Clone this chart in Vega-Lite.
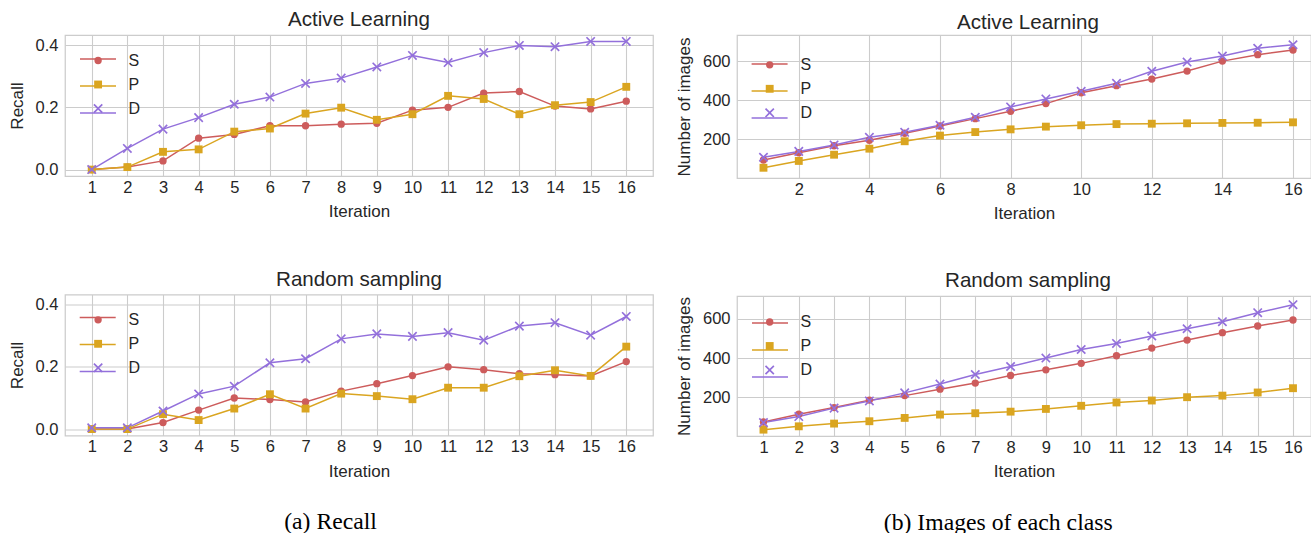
{
  "$schema": "https://vega.github.io/schema/vega-lite/v6.json",
  "background": "white",
  "padding": {"left": 7, "top": 9, "right": 0, "bottom": 0},
  "autosize": {"type": "pad"},
  "datasets": {
    "recall_al": [
      {"Iteration": 1, "series": "S", "value": 0}, {"Iteration": 2, "series": "S", "value": 0.008}, {"Iteration": 3, "series": "S", "value": 0.028}, {"Iteration": 4, "series": "S", "value": 0.101},
      {"Iteration": 5, "series": "S", "value": 0.113}, {"Iteration": 6, "series": "S", "value": 0.141}, {"Iteration": 7, "series": "S", "value": 0.141}, {"Iteration": 8, "series": "S", "value": 0.146},
      {"Iteration": 9, "series": "S", "value": 0.149}, {"Iteration": 10, "series": "S", "value": 0.191}, {"Iteration": 11, "series": "S", "value": 0.2}, {"Iteration": 12, "series": "S", "value": 0.246},
      {"Iteration": 13, "series": "S", "value": 0.251}, {"Iteration": 14, "series": "S", "value": 0.204}, {"Iteration": 15, "series": "S", "value": 0.195}, {"Iteration": 16, "series": "S", "value": 0.22},
      {"Iteration": 1, "series": "P", "value": 0}, {"Iteration": 2, "series": "P", "value": 0.008}, {"Iteration": 3, "series": "P", "value": 0.057}, {"Iteration": 4, "series": "P", "value": 0.065},
      {"Iteration": 5, "series": "P", "value": 0.122}, {"Iteration": 6, "series": "P", "value": 0.132}, {"Iteration": 7, "series": "P", "value": 0.18}, {"Iteration": 8, "series": "P", "value": 0.199},
      {"Iteration": 9, "series": "P", "value": 0.16}, {"Iteration": 10, "series": "P", "value": 0.178}, {"Iteration": 11, "series": "P", "value": 0.237}, {"Iteration": 12, "series": "P", "value": 0.227},
      {"Iteration": 13, "series": "P", "value": 0.178}, {"Iteration": 14, "series": "P", "value": 0.207}, {"Iteration": 15, "series": "P", "value": 0.217}, {"Iteration": 16, "series": "P", "value": 0.266},
      {"Iteration": 1, "series": "D", "value": 0}, {"Iteration": 2, "series": "D", "value": 0.068}, {"Iteration": 3, "series": "D", "value": 0.13}, {"Iteration": 4, "series": "D", "value": 0.167},
      {"Iteration": 5, "series": "D", "value": 0.21}, {"Iteration": 6, "series": "D", "value": 0.233}, {"Iteration": 7, "series": "D", "value": 0.277}, {"Iteration": 8, "series": "D", "value": 0.294},
      {"Iteration": 9, "series": "D", "value": 0.33}, {"Iteration": 10, "series": "D", "value": 0.367}, {"Iteration": 11, "series": "D", "value": 0.344}, {"Iteration": 12, "series": "D", "value": 0.376},
      {"Iteration": 13, "series": "D", "value": 0.399}, {"Iteration": 14, "series": "D", "value": 0.395}, {"Iteration": 15, "series": "D", "value": 0.412}, {"Iteration": 16, "series": "D", "value": 0.412}
    ],
    "recall_rs": [
      {"Iteration": 1, "series": "S", "value": 0}, {"Iteration": 2, "series": "S", "value": 0}, {"Iteration": 3, "series": "S", "value": 0.021}, {"Iteration": 4, "series": "S", "value": 0.061},
      {"Iteration": 5, "series": "S", "value": 0.1}, {"Iteration": 6, "series": "S", "value": 0.095}, {"Iteration": 7, "series": "S", "value": 0.087}, {"Iteration": 8, "series": "S", "value": 0.122},
      {"Iteration": 9, "series": "S", "value": 0.146}, {"Iteration": 10, "series": "S", "value": 0.172}, {"Iteration": 11, "series": "S", "value": 0.2}, {"Iteration": 12, "series": "S", "value": 0.191},
      {"Iteration": 13, "series": "S", "value": 0.178}, {"Iteration": 14, "series": "S", "value": 0.175}, {"Iteration": 15, "series": "S", "value": 0.171}, {"Iteration": 16, "series": "S", "value": 0.217},
      {"Iteration": 1, "series": "P", "value": 0}, {"Iteration": 2, "series": "P", "value": 0}, {"Iteration": 3, "series": "P", "value": 0.048}, {"Iteration": 4, "series": "P", "value": 0.029},
      {"Iteration": 5, "series": "P", "value": 0.066}, {"Iteration": 6, "series": "P", "value": 0.112}, {"Iteration": 7, "series": "P", "value": 0.066}, {"Iteration": 8, "series": "P", "value": 0.114},
      {"Iteration": 9, "series": "P", "value": 0.106}, {"Iteration": 10, "series": "P", "value": 0.096}, {"Iteration": 11, "series": "P", "value": 0.133}, {"Iteration": 12, "series": "P", "value": 0.133},
      {"Iteration": 13, "series": "P", "value": 0.17}, {"Iteration": 14, "series": "P", "value": 0.189}, {"Iteration": 15, "series": "P", "value": 0.171}, {"Iteration": 16, "series": "P", "value": 0.265},
      {"Iteration": 1, "series": "D", "value": 0.004}, {"Iteration": 2, "series": "D", "value": 0.004}, {"Iteration": 3, "series": "D", "value": 0.058}, {"Iteration": 4, "series": "D", "value": 0.113},
      {"Iteration": 5, "series": "D", "value": 0.138}, {"Iteration": 6, "series": "D", "value": 0.213}, {"Iteration": 7, "series": "D", "value": 0.226}, {"Iteration": 8, "series": "D", "value": 0.29},
      {"Iteration": 9, "series": "D", "value": 0.306}, {"Iteration": 10, "series": "D", "value": 0.298}, {"Iteration": 11, "series": "D", "value": 0.31}, {"Iteration": 12, "series": "D", "value": 0.286},
      {"Iteration": 13, "series": "D", "value": 0.331}, {"Iteration": 14, "series": "D", "value": 0.342}, {"Iteration": 15, "series": "D", "value": 0.302}, {"Iteration": 16, "series": "D", "value": 0.362}
    ],
    "img_al": [
      {"Iteration": 1, "series": "S", "value": 94}, {"Iteration": 2, "series": "S", "value": 131}, {"Iteration": 3, "series": "S", "value": 167}, {"Iteration": 4, "series": "S", "value": 195},
      {"Iteration": 5, "series": "S", "value": 231}, {"Iteration": 6, "series": "S", "value": 268}, {"Iteration": 7, "series": "S", "value": 306}, {"Iteration": 8, "series": "S", "value": 344},
      {"Iteration": 9, "series": "S", "value": 383}, {"Iteration": 10, "series": "S", "value": 439}, {"Iteration": 11, "series": "S", "value": 475}, {"Iteration": 12, "series": "S", "value": 509},
      {"Iteration": 13, "series": "S", "value": 550}, {"Iteration": 14, "series": "S", "value": 601}, {"Iteration": 15, "series": "S", "value": 634}, {"Iteration": 16, "series": "S", "value": 658},
      {"Iteration": 1, "series": "P", "value": 54}, {"Iteration": 2, "series": "P", "value": 89}, {"Iteration": 3, "series": "P", "value": 121}, {"Iteration": 4, "series": "P", "value": 152},
      {"Iteration": 5, "series": "P", "value": 190}, {"Iteration": 6, "series": "P", "value": 219}, {"Iteration": 7, "series": "P", "value": 237}, {"Iteration": 8, "series": "P", "value": 251},
      {"Iteration": 9, "series": "P", "value": 265}, {"Iteration": 10, "series": "P", "value": 272}, {"Iteration": 11, "series": "P", "value": 278}, {"Iteration": 12, "series": "P", "value": 280},
      {"Iteration": 13, "series": "P", "value": 282}, {"Iteration": 14, "series": "P", "value": 284}, {"Iteration": 15, "series": "P", "value": 285}, {"Iteration": 16, "series": "P", "value": 287},
      {"Iteration": 1, "series": "D", "value": 108}, {"Iteration": 2, "series": "D", "value": 138}, {"Iteration": 3, "series": "D", "value": 171}, {"Iteration": 4, "series": "D", "value": 210},
      {"Iteration": 5, "series": "D", "value": 236}, {"Iteration": 6, "series": "D", "value": 272}, {"Iteration": 7, "series": "D", "value": 313}, {"Iteration": 8, "series": "D", "value": 366},
      {"Iteration": 9, "series": "D", "value": 407}, {"Iteration": 10, "series": "D", "value": 446}, {"Iteration": 11, "series": "D", "value": 487}, {"Iteration": 12, "series": "D", "value": 549},
      {"Iteration": 13, "series": "D", "value": 596}, {"Iteration": 14, "series": "D", "value": 627}, {"Iteration": 15, "series": "D", "value": 667}, {"Iteration": 16, "series": "D", "value": 685}
    ],
    "img_rs": [
      {"Iteration": 1, "series": "S", "value": 73}, {"Iteration": 2, "series": "S", "value": 113}, {"Iteration": 3, "series": "S", "value": 147}, {"Iteration": 4, "series": "S", "value": 185},
      {"Iteration": 5, "series": "S", "value": 208}, {"Iteration": 6, "series": "S", "value": 241}, {"Iteration": 7, "series": "S", "value": 272}, {"Iteration": 8, "series": "S", "value": 311},
      {"Iteration": 9, "series": "S", "value": 340}, {"Iteration": 10, "series": "S", "value": 373}, {"Iteration": 11, "series": "S", "value": 412}, {"Iteration": 12, "series": "S", "value": 451},
      {"Iteration": 13, "series": "S", "value": 492}, {"Iteration": 14, "series": "S", "value": 530}, {"Iteration": 15, "series": "S", "value": 564}, {"Iteration": 16, "series": "S", "value": 595},
      {"Iteration": 1, "series": "P", "value": 34}, {"Iteration": 2, "series": "P", "value": 51}, {"Iteration": 3, "series": "P", "value": 65}, {"Iteration": 4, "series": "P", "value": 77},
      {"Iteration": 5, "series": "P", "value": 94}, {"Iteration": 6, "series": "P", "value": 111}, {"Iteration": 7, "series": "P", "value": 118}, {"Iteration": 8, "series": "P", "value": 126},
      {"Iteration": 9, "series": "P", "value": 140}, {"Iteration": 10, "series": "P", "value": 156}, {"Iteration": 11, "series": "P", "value": 173}, {"Iteration": 12, "series": "P", "value": 183},
      {"Iteration": 13, "series": "P", "value": 200}, {"Iteration": 14, "series": "P", "value": 208}, {"Iteration": 15, "series": "P", "value": 224}, {"Iteration": 16, "series": "P", "value": 246},
      {"Iteration": 1, "series": "D", "value": 70}, {"Iteration": 2, "series": "D", "value": 101}, {"Iteration": 3, "series": "D", "value": 144}, {"Iteration": 4, "series": "D", "value": 181},
      {"Iteration": 5, "series": "D", "value": 222}, {"Iteration": 6, "series": "D", "value": 267}, {"Iteration": 7, "series": "D", "value": 316}, {"Iteration": 8, "series": "D", "value": 357},
      {"Iteration": 9, "series": "D", "value": 400}, {"Iteration": 10, "series": "D", "value": 444}, {"Iteration": 11, "series": "D", "value": 475}, {"Iteration": 12, "series": "D", "value": 513},
      {"Iteration": 13, "series": "D", "value": 550}, {"Iteration": 14, "series": "D", "value": 586}, {"Iteration": 15, "series": "D", "value": 632}, {"Iteration": 16, "series": "D", "value": 673}
    ]
  },
  "config": {
    "view": {"stroke": "#cccccc", "strokeWidth": 1.25},
    "axis": {
      "domain": false, "ticks": false, "grid": true, "gridColor": "#cccccc", "gridWidth": 1.1,
      "labelFont": "Liberation Sans", "labelFontSize": 16.5, "labelColor": "#262626", "labelPadding": 7,
      "labelFlush": false, "labelOverlap": false, "labelBound": false,
      "titleFont": "Liberation Sans", "titleFontSize": 17, "titleFontWeight": "normal", "titleColor": "#262626", "titlePadding": 8
    },
    "axisX": {"labelPadding": 3},
    "axisY": {"titlePadding": 9},
    "title": {"font": "Liberation Sans", "fontSize": 20.6, "fontWeight": "normal", "color": "#262626"},
    "legend": {
      "title": null, "padding": 0,
      "labelFont": "Liberation Sans", "labelFontSize": 16, "labelColor": "#262626",
      "symbolStrokeWidth": 1.5, "rowPadding": 8
    }
  },
  "resolve": {
    "scale": {"x": "independent", "y": "independent", "color": "independent", "shape": "independent", "size": "independent", "stroke": "independent"},
    "legend": {"color": "independent", "stroke": "independent"}
  },
  "spacing": 20,
  "hconcat": [
    {
      "title": {"text": "(a) Recall", "orient": "bottom", "anchor": "middle", "frame": "bounds", "font": "Liberation Serif", "fontSize": 23.7, "color": "#000000", "fontWeight": "normal", "offset": 30.5},
      "spacing": 47.5,
      "resolve": {
        "scale": {"x": "independent", "y": "independent", "color": "independent", "shape": "independent", "size": "independent", "stroke": "independent"},
        "legend": {"color": "independent", "stroke": "independent"}
      },
      "vconcat": [
        {
          "width": 588, "height": 141,
          "title": {"text": "Active Learning", "anchor": "middle", "frame": "group", "offset": 4},
          "data": {"name": "recall_al"},
          "encoding": {
            "x": {"field": "Iteration", "type": "quantitative", "scale": {"domain": [0.25, 16.75], "nice": false, "zero": false}, "axis": {"values": [1,2,3,4,5,6,7,8,9,10,11,12,13,14,15,16], "format": "d", "title": "Iteration"}},
            "y": {"field": "value", "type": "quantitative", "scale": {"domain": [-0.0206, 0.4326], "nice": false, "zero": false}, "axis": {"values": [0, 0.2, 0.4], "format": ".1f", "title": "Recall"}}
          },
          "layer": [
            {"mark": {"type": "line", "strokeWidth": 1.5},
              "encoding": {
                "stroke": {"field": "series", "type": "nominal", "scale": {"domain": ["S", "P", "D", "_"], "range": ["#cd5c5c", "#daa520", "#9370db", "#ffffff"]},
                  "legend": {"values": ["S", "P", "D"], "orient": "top-left", "offset": 5, "title": null, "symbolType": "stroke", "symbolSize": 1296, "symbolStrokeWidth": 1.5, "symbolOffset": 9, "rowPadding": -12, "labelExpr": "''", "labelColor": "transparent", "padding": 0}}
              }},
            {"mark": {"type": "point", "filled": true, "opacity": 1, "strokeWidth": 0},
              "encoding": {
                "color": {"field": "series", "type": "nominal", "scale": {"domain": ["S", "P", "D"], "range": ["#cd5c5c", "#daa520", "#9370db"]},
                  "legend": {"orient": "none", "legendX": 25.1, "legendY": 17.5, "title": null, "labelOffset": 22.3}},
                "shape": {"field": "series", "type": "nominal", "scale": {"domain": ["S", "P", "D"], "range": ["circle", "square", "M0.859,-1.141L1.141,-0.859L0.283,0L1.141,0.859L0.859,1.141L0,0.283L-0.859,1.141L-1.141,0.859L-0.283,0L-1.141,-0.859L-0.859,-1.141L0,-0.283Z"]}, "legend": null},
                "size": {"field": "series", "type": "nominal", "scale": {"domain": ["S", "P", "D"], "range": [54, 70, 42]}, "legend": null}
              }}
          ]
        },
        {
          "width": 588, "height": 141,
          "title": {"text": "Random sampling", "anchor": "middle", "frame": "group", "offset": 4},
          "data": {"name": "recall_rs"},
          "encoding": {
            "x": {"field": "Iteration", "type": "quantitative", "scale": {"domain": [0.25, 16.75], "nice": false, "zero": false}, "axis": {"values": [1,2,3,4,5,6,7,8,9,10,11,12,13,14,15,16], "format": "d", "title": "Iteration"}},
            "y": {"field": "value", "type": "quantitative", "scale": {"domain": [-0.0206, 0.4326], "nice": false, "zero": false}, "axis": {"values": [0, 0.2, 0.4], "format": ".1f", "title": "Recall"}}
          },
          "layer": [
            {"mark": {"type": "line", "strokeWidth": 1.5},
              "encoding": {
                "stroke": {"field": "series", "type": "nominal", "scale": {"domain": ["S", "P", "D", "_"], "range": ["#cd5c5c", "#daa520", "#9370db", "#ffffff"]},
                  "legend": {"values": ["S", "P", "D"], "orient": "top-left", "offset": 4.3, "title": null, "symbolType": "stroke", "symbolSize": 1296, "symbolStrokeWidth": 1.5, "symbolOffset": 9.7, "rowPadding": -12, "labelExpr": "''", "labelColor": "transparent", "padding": 0}}
              }},
            {"mark": {"type": "point", "filled": true, "opacity": 1, "strokeWidth": 0},
              "encoding": {
                "color": {"field": "series", "type": "nominal", "scale": {"domain": ["S", "P", "D"], "range": ["#cd5c5c", "#daa520", "#9370db"]},
                  "legend": {"orient": "none", "legendX": 25.1, "legendY": 17.3, "title": null, "labelOffset": 22.3}},
                "shape": {"field": "series", "type": "nominal", "scale": {"domain": ["S", "P", "D"], "range": ["circle", "square", "M0.859,-1.141L1.141,-0.859L0.283,0L1.141,0.859L0.859,1.141L0,0.283L-0.859,1.141L-1.141,0.859L-0.283,0L-1.141,-0.859L-0.859,-1.141L0,-0.283Z"]}, "legend": null},
                "size": {"field": "series", "type": "nominal", "scale": {"domain": ["S", "P", "D"], "range": [54, 70, 42]}, "legend": null}
              }}
          ]
        }
      ]
    },
    {
      "title": {"text": "(b) Images of each class", "orient": "bottom", "anchor": "middle", "frame": "bounds", "font": "Liberation Serif", "fontSize": 23.7, "color": "#000000", "fontWeight": "normal", "offset": 30.5, "dx": 5},
      "spacing": 47,
      "resolve": {
        "scale": {"x": "independent", "y": "independent", "color": "independent", "shape": "independent", "size": "independent", "stroke": "independent"},
        "legend": {"color": "independent", "stroke": "independent"}
      },
      "vconcat": [
        {
          "width": 574, "height": 143,
          "title": {"text": "Active Learning", "anchor": "middle", "frame": "group", "offset": 4, "dx": 4, "dy": 3},
          "data": {"name": "img_al"},
          "encoding": {
            "x": {"field": "Iteration", "type": "quantitative", "scale": {"domain": [0.25, 16.51], "nice": false, "zero": false}, "axis": {"values": [2,4,6,8,10,12,14,16], "format": "d", "title": "Iteration"}},
            "y": {"field": "value", "type": "quantitative", "scale": {"domain": [1.5, 735], "nice": false, "zero": false}, "axis": {"values": [200, 400, 600], "format": "d", "title": "Number of images"}}
          },
          "layer": [
            {"mark": {"type": "line", "strokeWidth": 1.5},
              "encoding": {
                "stroke": {"field": "series", "type": "nominal", "scale": {"domain": ["S", "P", "D", "_"], "range": ["#cd5c5c", "#daa520", "#9370db", "#ffffff"]},
                  "legend": {"values": ["S", "P", "D"], "orient": "top-left", "offset": 10, "title": null, "symbolType": "stroke", "symbolSize": 1296, "symbolStrokeWidth": 1.5, "symbolOffset": 3.6, "rowPadding": -12, "labelExpr": "''", "labelColor": "transparent", "padding": 0}}
              }},
            {"mark": {"type": "point", "filled": true, "opacity": 1, "strokeWidth": 0},
              "encoding": {
                "color": {"field": "series", "type": "nominal", "scale": {"domain": ["S", "P", "D"], "range": ["#cd5c5c", "#daa520", "#9370db"]},
                  "legend": {"orient": "none", "legendX": 24.7, "legendY": 21.8, "title": null, "labelOffset": 22.8}},
                "shape": {"field": "series", "type": "nominal", "scale": {"domain": ["S", "P", "D"], "range": ["circle", "square", "M0.859,-1.141L1.141,-0.859L0.283,0L1.141,0.859L0.859,1.141L0,0.283L-0.859,1.141L-1.141,0.859L-0.283,0L-1.141,-0.859L-0.859,-1.141L0,-0.283Z"]}, "legend": null},
                "size": {"field": "series", "type": "nominal", "scale": {"domain": ["S", "P", "D"], "range": [54, 70, 42]}, "legend": null}
              }}
          ]
        },
        {
          "width": 574, "height": 140,
          "title": {"text": "Random sampling", "anchor": "middle", "frame": "group", "offset": 4, "dx": 4},
          "data": {"name": "img_rs"},
          "encoding": {
            "x": {"field": "Iteration", "type": "quantitative", "scale": {"domain": [0.25, 16.51], "nice": false, "zero": false}, "axis": {"values": [1,2,3,4,5,6,7,8,9,10,11,12,13,14,15,16], "format": "d", "title": "Iteration"}},
            "y": {"field": "value", "type": "quantitative", "scale": {"domain": [1.5, 717.5], "nice": false, "zero": false}, "axis": {"values": [200, 400, 600], "format": "d", "title": "Number of images"}}
          },
          "layer": [
            {"mark": {"type": "line", "strokeWidth": 1.5},
              "encoding": {
                "stroke": {"field": "series", "type": "nominal", "scale": {"domain": ["S", "P", "D", "_"], "range": ["#cd5c5c", "#daa520", "#9370db", "#ffffff"]},
                  "legend": {"values": ["S", "P", "D"], "orient": "top-left", "offset": 7.5, "title": null, "symbolType": "stroke", "symbolSize": 1296, "symbolStrokeWidth": 1.5, "symbolOffset": 6, "rowPadding": -12, "labelExpr": "''", "labelColor": "transparent", "padding": 0}}
              }},
            {"mark": {"type": "point", "filled": true, "opacity": 1, "strokeWidth": 0},
              "encoding": {
                "color": {"field": "series", "type": "nominal", "scale": {"domain": ["S", "P", "D"], "range": ["#cd5c5c", "#daa520", "#9370db"]},
                  "legend": {"orient": "none", "legendX": 24.7, "legendY": 18, "title": null, "labelOffset": 22.8}},
                "shape": {"field": "series", "type": "nominal", "scale": {"domain": ["S", "P", "D"], "range": ["circle", "square", "M0.859,-1.141L1.141,-0.859L0.283,0L1.141,0.859L0.859,1.141L0,0.283L-0.859,1.141L-1.141,0.859L-0.283,0L-1.141,-0.859L-0.859,-1.141L0,-0.283Z"]}, "legend": null},
                "size": {"field": "series", "type": "nominal", "scale": {"domain": ["S", "P", "D"], "range": [54, 70, 42]}, "legend": null}
              }}
          ]
        }
      ]
    }
  ]
}
